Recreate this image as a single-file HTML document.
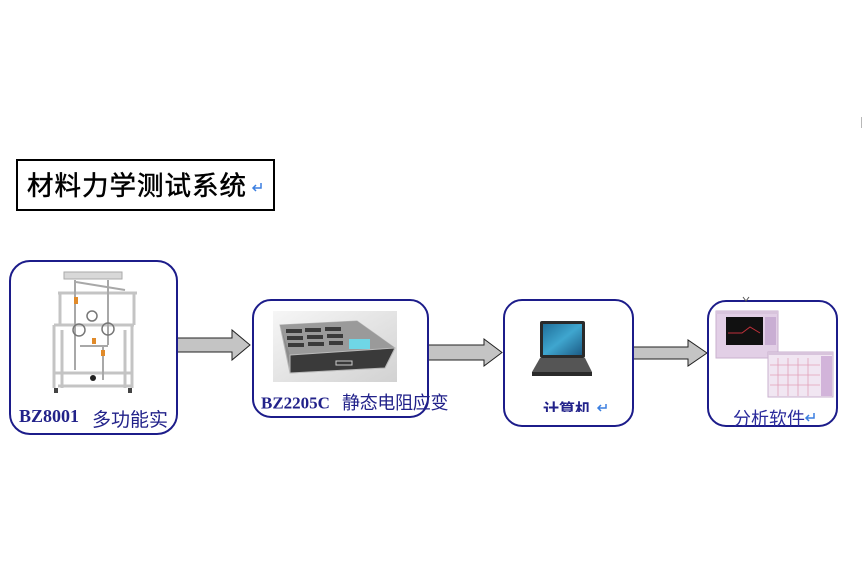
<!DOCTYPE html>
<html><head><meta charset="utf-8">
<style>
html,body{margin:0;padding:0;background:#fff;}
body{width:863px;height:585px;overflow:hidden;position:relative;}
svg{position:absolute;left:0;top:0;}
.cn{font-family:"Liberation Sans","Noto Sans CJK SC",sans-serif;}
.en{font-family:"Liberation Serif","Noto Serif CJK SC",serif;font-weight:bold;}
</style></head>
<body>
<svg width="863" height="585" viewBox="0 0 863 585" xmlns="http://www.w3.org/2000/svg">
  <defs>
    <linearGradient id="g2" x1="0" y1="0" x2="1" y2="1">
      <stop offset="0" stop-color="#f6f6f6"/>
      <stop offset="1" stop-color="#d2d2d2"/>
    </linearGradient>
    <linearGradient id="scr" x1="0" y1="0" x2="1" y2="1">
      <stop offset="0" stop-color="#1f6f9a"/>
      <stop offset="0.5" stop-color="#3fa6cf"/>
      <stop offset="1" stop-color="#1c5c86"/>
    </linearGradient>
    <clipPath id="c3"><rect x="520" y="390" width="100" height="22"/></clipPath>
  </defs>

  <!-- top-right mark -->
  <line x1="861.5" y1="117" x2="861.5" y2="128" stroke="#b8b8b8" stroke-width="1"/>

  <!-- Title -->
  <rect x="17" y="160" width="257" height="50" fill="#fff" stroke="#000" stroke-width="2"/>
  <text x="27" y="195" class="cn" font-size="26.5" letter-spacing="1" fill="#000" stroke="#000" stroke-width="0.5">材料力学测试系统</text>
  <path d="M261 183 v5 h-8 M256 185 l-3 3 l3 3" fill="none" stroke="#3b7fe0" stroke-width="1.5"/>

  <!-- Arrows -->
  <path d="M178 338 H232 V330 L250 345 L232 360 V352 H178" fill="#c4c4c4" stroke="#222" stroke-width="1"/>
  <path d="M428 345 H484 V339 L502 352.5 L484 366 V360 H428" fill="#c4c4c4" stroke="#222" stroke-width="1"/>
  <path d="M634 347 H688 V340 L707 353 L688 366 V359 H634" fill="#c4c4c4" stroke="#222" stroke-width="1"/>

  <!-- Box 1 -->
  <rect x="10" y="261" width="167" height="173" rx="20" ry="20" fill="#fff" stroke="#1c1c8a" stroke-width="2"/>
  <!-- apparatus -->
  <g stroke="#c4c4c4" stroke-width="3" fill="none">
    <line x1="58" y1="293" x2="137" y2="293"/>
    <line x1="60" y1="293" x2="60" y2="325"/>
    <line x1="134" y1="293" x2="134" y2="325"/>
    <line x1="54" y1="325" x2="134" y2="325"/>
    <line x1="54" y1="325" x2="54" y2="388"/>
    <line x1="62" y1="330" x2="62" y2="388"/>
    <line x1="125" y1="330" x2="125" y2="388"/>
    <line x1="132" y1="325" x2="132" y2="388"/>
    <line x1="54" y1="373" x2="132" y2="373"/>
    <line x1="58" y1="386" x2="132" y2="386"/>
  </g>
  <g stroke="#a8a8a8" stroke-width="2" fill="none">
    <line x1="75" y1="280" x2="75" y2="370"/>
    <line x1="108" y1="280" x2="108" y2="345"/>
    <line x1="80" y1="346" x2="108" y2="346"/>
    <line x1="103" y1="346" x2="103" y2="380"/>
    <line x1="76" y1="282" x2="125" y2="290"/>
  </g>
  <rect x="64" y="272" width="58" height="7" fill="#d8d8d8" stroke="#aaa" stroke-width="1"/>
  <g stroke="#777" stroke-width="1.5" fill="none">
    <circle cx="79" cy="330" r="6"/>
    <circle cx="108" cy="329" r="6"/>
    <circle cx="92" cy="316" r="5"/>
  </g>
  <rect x="74" y="297" width="4" height="7" fill="#e08a2a"/>
  <rect x="92" y="338" width="4" height="6" fill="#e08a2a"/>
  <rect x="101" y="350" width="4" height="6" fill="#e08a2a"/>
  <circle cx="93" cy="378" r="3" fill="#222"/>
  <rect x="54" y="388" width="4" height="5" fill="#444"/>
  <rect x="128" y="388" width="4" height="5" fill="#444"/>
  <text x="19" y="422" class="en" font-size="18" fill="#22228a">BZ8001</text>
  <text x="92" y="426" class="cn" font-size="19" fill="#22228a">多功能实</text>

  <!-- Box 2 -->
  <rect x="253" y="300" width="175" height="117" rx="18" ry="18" fill="#fff" stroke="#1c1c8a" stroke-width="2"/>
  <rect x="273" y="311" width="124" height="71" fill="url(#g2)"/>
  <path d="M280 325 L357 321 L395 348 L385 368 L290 373 Z" fill="#8c8c8c" stroke="#b5b5b5" stroke-width="1"/>
  <path d="M280 325 L357 321 L395 348 L290 355 Z" fill="#9a9a9a"/>
  <g fill="#3a3a3a">
    <rect x="286" y="329" width="16" height="4"/><rect x="305" y="328" width="16" height="4"/><rect x="325" y="327" width="16" height="4"/>
    <rect x="287" y="336" width="16" height="4"/><rect x="307" y="335" width="16" height="4"/><rect x="327" y="334" width="16" height="4"/>
    <rect x="288" y="343" width="16" height="4"/><rect x="308" y="342" width="16" height="4"/><rect x="329" y="341" width="14" height="4"/>
  </g>
  <rect x="349" y="339" width="21" height="10" fill="#6fd6e6"/>
  <path d="M290 355 L395 348 L385 368 L290 373 Z" fill="#3a3a3a" stroke="#bbb" stroke-width="1"/>
  <rect x="336" y="361" width="16" height="4" fill="none" stroke="#ccc" stroke-width="1"/>
  <text x="261" y="408.5" class="en" font-size="17" fill="#22228a">BZ2205C</text>
  <text x="342" y="409" class="cn" font-size="18" letter-spacing="-0.3" fill="#22228a">静态电阻应变</text>

  <!-- Box 3 -->
  <rect x="504" y="300" width="129" height="126" rx="18" ry="18" fill="#fff" stroke="#1c1c8a" stroke-width="2"/>
  <rect x="540" y="321" width="45" height="37" rx="2" fill="#2a2a2a"/>
  <rect x="543" y="324" width="39" height="31" fill="url(#scr)"/>
  <path d="M540 358 L585 358 L592 372 L532 372 Z" fill="#555"/>
  <rect x="532" y="372" width="60" height="4" fill="#2a2a2a"/>
  <g clip-path="url(#c3)">
    <text x="543" y="415" class="cn" font-size="16" font-weight="bold" fill="#22228a">计算机</text>
  </g>
  <path d="M606 404 v4 h-8 M601 405 l-3 3 l3 3" fill="none" stroke="#3b7fe0" stroke-width="1.5"/>

  <!-- Box 4 -->
  <rect x="708" y="301" width="129" height="125" rx="18" ry="18" fill="#fff" stroke="#1c1c8a" stroke-width="2"/>
  <path d="M743 297 l3 4 l3 -4" fill="none" stroke="#555" stroke-width="1"/>
  <rect x="716" y="311" width="62" height="47" fill="#e2cfe6" stroke="#c9b2cf" stroke-width="1"/>
  <rect x="716" y="311" width="62" height="3" fill="#d8c4dc"/>
  <rect x="726" y="317" width="37" height="28" fill="#111"/>
  <path d="M728 333 L742 333 L750 327 L760 333" fill="none" stroke="#c0303a" stroke-width="1"/>
  <rect x="765" y="317" width="11" height="28" fill="#c9aed3"/>
  <rect x="768" y="352" width="65" height="45" fill="#f1e6f2" stroke="#c9b2cf" stroke-width="1"/>
  <rect x="768" y="352" width="65" height="3" fill="#d8c4dc"/>
  <rect x="821" y="356" width="11" height="40" fill="#d2b4da"/>
  <g stroke="#e2a0b8" stroke-width="0.8">
    <line x1="778" y1="358" x2="778" y2="396"/><line x1="788" y1="358" x2="788" y2="396"/>
    <line x1="798" y1="358" x2="798" y2="396"/><line x1="808" y1="358" x2="808" y2="396"/>
    <line x1="770" y1="365" x2="820" y2="365"/><line x1="770" y1="375" x2="820" y2="375"/>
    <line x1="770" y1="385" x2="820" y2="385"/>
  </g>
  <text x="733" y="425" class="cn" font-size="18" fill="#2a2a9c">分析软件</text>
  <path d="M814 413 v5 h-8 M809 415 l-3 3 l3 3" fill="none" stroke="#3b7fe0" stroke-width="1.5"/>
</svg>
</body></html>
